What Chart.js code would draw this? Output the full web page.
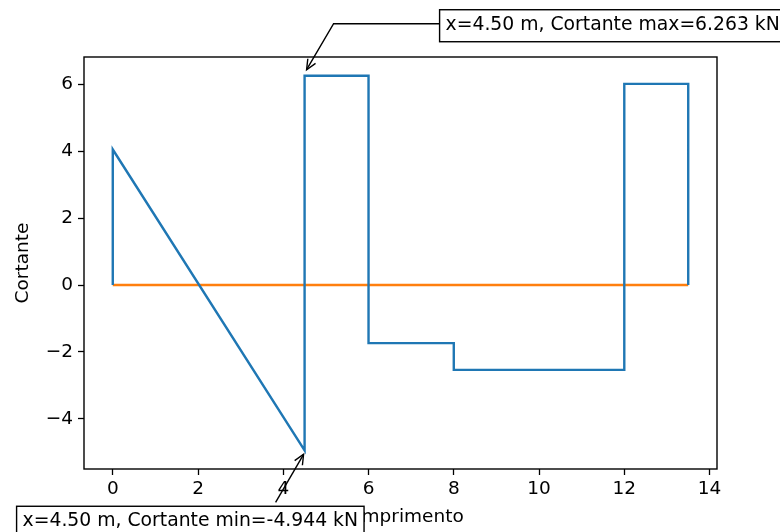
<!DOCTYPE html>
<html>
<head>
<meta charset="utf-8">
<script src="https://cdn.jsdelivr.net/npm/chart.js@4/dist/chart.umd.min.js"></script>
<style>
  body { margin: 0; background: #fff; }
  #wrap { width: 780px; height: 532px; position: relative; }
</style>
</head>
<body>
<div id="wrap"><canvas id="shear"></canvas></div>
<script>
// shear diagram vertices (x in m, V in kN)
const shearX = [0, 0, 4.5, 4.5, 6, 6, 8, 8, 12, 12, 13.5, 13.5];
const shearY = [0, 4.056, -4.944, 6.263, 6.263, -1.737, -1.737, -2.537, -2.537, 6.02, 6.02, 0];
const baseX = [0, 13.5];
const baseY = [0, 0];
const xTicks = [0, 2, 4, 6, 8, 10, 12, 14];
const yTicks = [-4, -2, 0, 2, 4, 6];
const maxNote = 'x=4.50 m, Cortante max=6.263 kN';
const minNote = 'x=4.50 m, Cortante min=-4.944 kN';
const maxPoint = [4.5, 6.263];
const minPoint = [4.5, -4.944];

const FONT = 'DejaVu Sans';
Chart.defaults.font.family = FONT;
Chart.defaults.font.size = 18.5;
Chart.defaults.color = '#000';

const pts = (xs, ys) => xs.map((x, i) => ({ x: x, y: ys[i] }));

// matplotlib-like 5% margins
const xLo = Math.min(...shearX), xHi = Math.max(...shearX);
const yLo = Math.min(...shearY), yHi = Math.max(...shearY);
const xPad = (xHi - xLo) * 0.05, yPad = (yHi - yLo) * 0.05;

const minus = v => v < 0 ? '\u2212' + Math.abs(v) : String(v);

const frame = {
  id: 'frame',
  afterDraw(chart) {
    const { ctx, chartArea: a, scales } = chart;
    ctx.save();
    ctx.strokeStyle = '#000';
    ctx.lineWidth = 1.4;
    ctx.strokeRect(a.left, a.top, a.right - a.left, a.bottom - a.top);

    ctx.font = '18.8px ' + FONT;
    ctx.textBaseline = 'middle';
    ctx.lineWidth = 1.4;

    const head = (tx, ty, fx, fy) => {
      const ang = Math.atan2(ty - fy, tx - fx);
      const L = 11, w = 0.42;
      ctx.beginPath();
      ctx.moveTo(tx - L * Math.cos(ang - w), ty - L * Math.sin(ang - w));
      ctx.lineTo(tx, ty);
      ctx.lineTo(tx - L * Math.cos(ang + w), ty - L * Math.sin(ang + w));
      ctx.stroke();
    };
    const box = (txt, left, top) => {
      const tw = ctx.measureText(txt).width;
      ctx.fillStyle = '#fff';
      ctx.fillRect(left, top, tw + 12, 32);
      ctx.strokeRect(left, top, tw + 12, 32);
      ctx.fillStyle = '#000';
      ctx.fillText(txt, left + 6, top + 15);
    };

    // max annotation
    let ax = scales.x.getPixelForValue(maxPoint[0]);
    let ay = scales.y.getPixelForValue(maxPoint[1]);
    ctx.beginPath();
    ctx.moveTo(ax + 135, ay - 52);
    ctx.lineTo(ax + 29, ay - 52);
    ctx.lineTo(ax + 2, ay - 6);
    ctx.stroke();
    head(ax + 2, ay - 6, ax + 29, ay - 52);
    box(maxNote, ax + 135, ay - 66);

    // min annotation
    ax = scales.x.getPixelForValue(minPoint[0]);
    ay = scales.y.getPixelForValue(minPoint[1]);
    ctx.beginPath();
    ctx.moveTo(ax - 29, ay + 52);
    ctx.lineTo(ax - 1, ay + 4);
    ctx.stroke();
    head(ax - 1, ay + 4, ax - 29, ay + 52);
    box(minNote, ax - 288, ay + 56);
    ctx.restore();
  }
};

new Chart(document.getElementById('shear'), {
  type: 'line',
  data: {
    datasets: [
      { data: pts(shearX, shearY), borderColor: '#1f77b4', borderWidth: 2.4, pointRadius: 0, tension: 0 },
      { data: pts(baseX, baseY), borderColor: '#ff7f0e', borderWidth: 2.4, pointRadius: 0, tension: 0 }
    ]
  },
  options: {
    responsive: true,
    maintainAspectRatio: false,
    animation: false,
    layout: { padding: { top: 57, right: 63, left: 0, bottom: 0 } },
    plugins: { legend: { display: false }, tooltip: { enabled: false } },
    scales: {
      x: {
        type: 'linear',
        min: xLo - xPad,
        max: xHi + xPad,
        afterBuildTicks: s => { s.ticks = xTicks.map(v => ({ value: v })); },
        afterFit: s => { s.height = 63; },
        ticks: { padding: 3, maxRotation: 0, callback: v => minus(v) },
        grid: { drawOnChartArea: false, tickLength: 6, color: '#000', tickWidth: 1.3 },
        border: { display: false },
        title: { display: true, text: 'Comprimento', padding: { top: 4, bottom: 4 } }
      },
      y: {
        type: 'linear',
        min: yLo - yPad,
        max: yHi + yPad,
        afterBuildTicks: s => { s.ticks = yTicks.map(v => ({ value: v })); },
        afterFit: s => { s.width = 84; },
        ticks: { padding: 5, callback: v => minus(v) },
        grid: { drawOnChartArea: false, tickLength: 6, color: '#000', tickWidth: 1.3 },
        border: { display: false },
        title: { display: true, text: 'Cortante', padding: { top: 12, bottom: 4 } }
      }
    }
  },
  plugins: [frame]
});
</script>
</body>
</html>
